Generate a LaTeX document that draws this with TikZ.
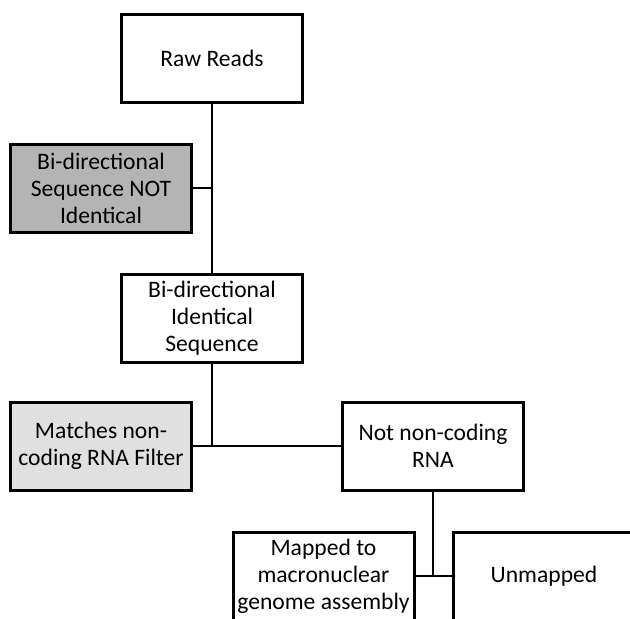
\documentclass[tikz,border=0pt]{standalone}
\usepackage{fontspec}
\setmainfont{Carlito}
\definecolor{darkfill}{HTML}{B4B4B4}
\definecolor{lightfill}{HTML}{E0E0E0}
\begin{document}
\begin{tikzpicture}[x=0.5pt,y=-0.5pt,
  box/.style={draw,line width=1.5pt,fill=white,minimum width=90.5pt,minimum height=44pt,
    inner sep=0pt,align=center,font=\fontsize{11.8}{13.5}\selectfont},
  link/.style={line width=0.65pt}]
\useasboundingbox (0,0) rectangle (630,618);
\clip (0,0) rectangle (630,618);
\node[box] (raw) at (212,58) {Raw Reads};
\node[box,fill=darkfill] (notid) at (101,188) {Bi-directional\\Sequence NOT\\Identical};
\node[box] (ident) at (212,318) {Bi-directional\\Identical\\Sequence};
\node[box,fill=lightfill] (match) at (101,446) {Matches non-\\coding RNA Filter};
\node[box] (notnc) at (433,446) {Not non-coding\\RNA};
\node[box] (mapped) at (323.5,576) {Mapped to\\macronuclear\\genome assembly};
\node[box] (unmapped) at (544,576) {Unmapped};
% connectors
\draw[link] (raw.south) -- (ident.north);
\draw[link] (notid.east) -- (notid.east -| raw.south);
\draw[link] (ident.south) -- (ident.south |- match.east);
\draw[link] (match.east) -- (notnc.west);
\draw[link] (notnc.south) -- (notnc.south |- mapped.east);
\draw[link] (mapped.east) -- (unmapped.west);
\end{tikzpicture}
\end{document}
